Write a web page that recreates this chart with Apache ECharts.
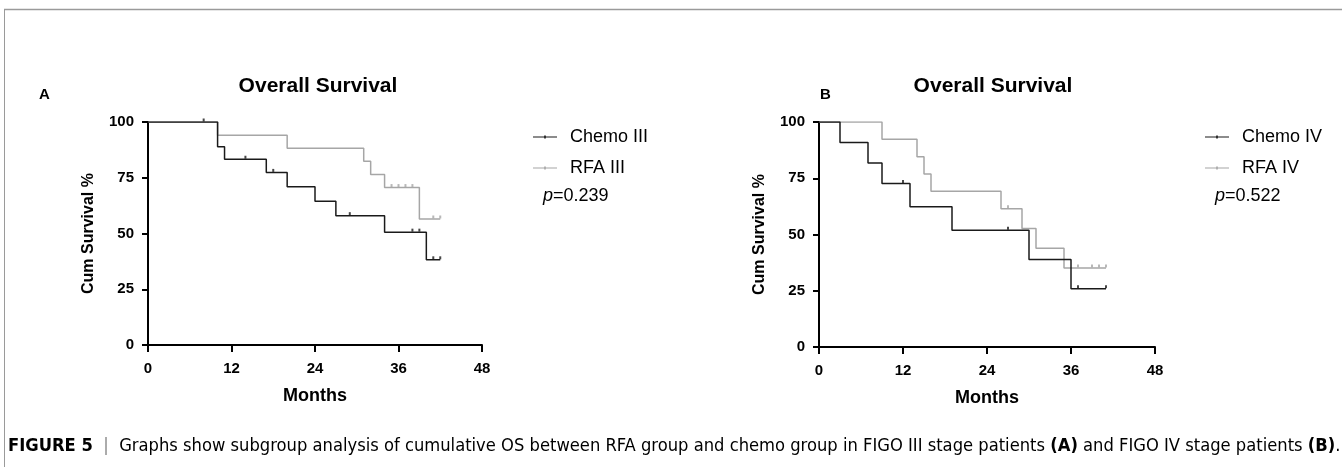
<!DOCTYPE html>
<html>
<head>
<meta charset="utf-8">
<script src="https://cdn.jsdelivr.net/npm/echarts@6/dist/echarts.min.js"></script>
<style>
html,body{margin:0;padding:0;background:#fff;}
#c{width:1342px;height:467px;}
</style>
</head>
<body>
<div id="c"></div>
<script>
// ---- data ----
const xTicks = [0, 12, 24, 36, 48];
const yTicks = [0, 25, 50, 75, 100];

// Panel A (FIGO III): [month, cum survival %]
const chemoIII = [[0,100],[10,88.9],[11,83.3],[17,77.4],[20,71.0],[24,64.5],[27,58.0],[34,50.6],[40,38.2],[42,38.2]];
const chemoIIICensor = [[8,100],[14,83.3],[18,77.4],[29,58.0],[38,50.6],[39,50.6],[41,38.2],[42,38.2]];
const rfaIII = [[0,100],[10,94.1],[20,88.2],[31,82.4],[32,76.5],[34,70.6],[39,56.5],[42,56.5]];
const rfaIIICensor = [[35,70.6],[36,70.6],[37,70.6],[38,70.6],[41,56.5],[42,56.5]];

// Panel B (FIGO IV)
const chemoIV = [[0,100],[3,90.9],[7,81.8],[9,72.7],[13,62.3],[19,51.9],[30,38.9],[36,25.9],[41,25.9]];
const chemoIVCensor = [[12,72.7],[27,51.9],[37,25.9],[41,25.9]];
const rfaIV = [[0,100],[9,92.3],[14,84.6],[15,76.9],[16,69.2],[26,61.5],[29,52.7],[31,43.9],[35,35.1],[41,35.1]];
const rfaIVCensor = [[27,61.5],[37,35.1],[39,35.1],[40,35.1],[41,35.1]];

const pA = '0.239';
const pB = '0.522';
const seriesNames = ['Chemo III', 'RFA III', 'Chemo IV', 'RFA IV'];

// ---- styles ----
const FONT = "'Liberation Sans', Arial, sans-serif";
const CAPFONT = "'DejaVu Sans Condensed', 'Liberation Sans', sans-serif";
const DARK = '#1a1a1a';
const GRAY = '#a6a6a6';
const LEGEND_ICON = 'path://M0,2.5L24,2.5L24,3.5L0,3.5Z M11.2,1.5L12.8,1.5L12.8,4.5L11.2,4.5Z';

function xAxis(gi) {
  return {
    type: 'value', gridIndex: gi, min: 0, max: 48, interval: 12,
    name: 'Months', nameLocation: 'middle', nameGap: 42,
    nameTextStyle: {fontFamily: FONT, fontWeight: 'bold', fontSize: 18, color: '#000'},
    axisLine: {onZero: false, lineStyle: {color: '#000', width: 2}},
    axisTick: {length: 7, lineStyle: {color: '#000', width: 2}},
    axisLabel: {margin: 16, fontFamily: FONT, fontWeight: 'bold', fontSize: 15, color: '#000'},
    splitLine: {show: false}
  };
}
function yAxis(gi) {
  return {
    type: 'value', gridIndex: gi, min: 0, max: 100, interval: 25,
    name: 'Cum Survival %', nameLocation: 'middle', nameGap: 51,
    nameTextStyle: {fontFamily: FONT, fontWeight: 'bold', fontSize: 16, color: '#000'},
    axisLine: {show: true, onZero: false, lineStyle: {color: '#000', width: 2}},
    axisTick: {show: true, length: 6, lineStyle: {color: '#000', width: 2}},
    axisLabel: {margin: 14, fontFamily: FONT, fontWeight: 'bold', fontSize: 15, color: '#000'},
    splitLine: {show: false}
  };
}
function km(name, data, color, idx) {
  return {
    name: name, type: 'line', step: 'end', data: data,
    xAxisIndex: idx, yAxisIndex: idx,
    symbol: 'none', showSymbol: false,
    lineStyle: {color: color, width: 1.5}, itemStyle: {color: color},
    silent: true, animation: false, z: color === DARK ? 3 : 2
  };
}
function censor(name, data, color, idx) {
  return {
    name: name, type: 'scatter', data: data,
    xAxisIndex: idx, yAxisIndex: idx,
    symbol: 'rect', symbolSize: [2, 3], symbolOffset: [0, -2],
    itemStyle: {color: color}, silent: true, animation: false, z: 4
  };
}
function legend(names, left) {
  return {
    orient: 'vertical', left: left, top: 128, itemGap: 13, padding: 0,
    itemWidth: 24, itemHeight: 6,
    data: names.map(n => ({name: n, icon: LEGEND_ICON})),
    selectedMode: false,
    textStyle: {fontFamily: FONT, fontSize: 18, color: '#000', padding: [0, 0, 0, 8]}
  };
}

const chart = echarts.init(document.getElementById('c'), null, {renderer: 'canvas'});
chart.setOption({
  backgroundColor: '#fff',
  animation: false,
  title: [
    {text: 'Overall Survival', left: 313, top: 71, textAlign: 'center',
     textStyle: {fontFamily: FONT, fontWeight: 'bold', fontSize: 21, color: '#000'}},
    {text: 'Overall Survival', left: 988, top: 71, textAlign: 'center',
     textStyle: {fontFamily: FONT, fontWeight: 'bold', fontSize: 21, color: '#000'}}
  ],
  grid: [
    {left: 148, top: 122, width: 334, height: 223},
    {left: 819, top: 122, width: 336, height: 225}
  ],
  xAxis: [xAxis(0), xAxis(1)],
  yAxis: [yAxis(0), yAxis(1)],
  legend: [
    legend([seriesNames[0], seriesNames[1]], 533),
    legend([seriesNames[2], seriesNames[3]], 1205)
  ],
  series: [
    km(seriesNames[1], rfaIII, GRAY, 0),
    km(seriesNames[0], chemoIII, DARK, 0),
    censor('cA1', chemoIIICensor, DARK, 0),
    censor('cA2', rfaIIICensor, GRAY, 0),
    km(seriesNames[3], rfaIV, GRAY, 1),
    km(seriesNames[2], chemoIV, DARK, 1),
    censor('cB1', chemoIVCensor, DARK, 1),
    censor('cB2', rfaIVCensor, GRAY, 1)
  ],
  graphic: [
    {type: 'line', shape: {x1: 4, y1: 9.5, x2: 1342, y2: 9.5}, style: {stroke: '#9a9a9a', lineWidth: 1.5}, silent: true},
    {type: 'line', shape: {x1: 4.5, y1: 9, x2: 4.5, y2: 467}, style: {stroke: '#9a9a9a', lineWidth: 1}, silent: true},
    {type: 'text', left: 39, top: 87, style: {text: 'A', font: 'bold 15px ' + FONT, fill: '#000'}},
    {type: 'text', left: 820, top: 87, style: {text: 'B', font: 'bold 15px ' + FONT, fill: '#000'}},
    {type: 'text', left: 543, top: 187, style: {
      text: '{i|p}{n|=' + pA + '}',
      rich: {i: {fontFamily: FONT, fontStyle: 'italic', fontSize: 18, fill: '#000'}, n: {fontFamily: FONT, fontSize: 18, fill: '#000'}}
    }},
    {type: 'text', left: 1215, top: 187, style: {
      text: '{i|p}{n|=' + pB + '}',
      rich: {i: {fontFamily: FONT, fontStyle: 'italic', fontSize: 18, fill: '#000'}, n: {fontFamily: FONT, fontSize: 18, fill: '#000'}}
    }},
    {type: 'text', left: 8, top: 437, style: {
      text: '{b|FIGURE 5}{s|  |  }{t|Graphs show subgroup analysis of cumulative OS between RFA group and chemo group in FIGO III stage patients }{b|(A)}{t| and FIGO IV stage patients }{b|(B)}{t|.}',
      rich: {
        b: {fontFamily: CAPFONT, fontWeight: 'bold', fontSize: 18.2, fill: '#000'},
        s: {fontFamily: CAPFONT, fontSize: 18.2, fill: '#888'},
        t: {fontFamily: CAPFONT, fontSize: 18.2, fill: '#000'}
      }
    }}
  ]
});
</script>
</body>
</html>
